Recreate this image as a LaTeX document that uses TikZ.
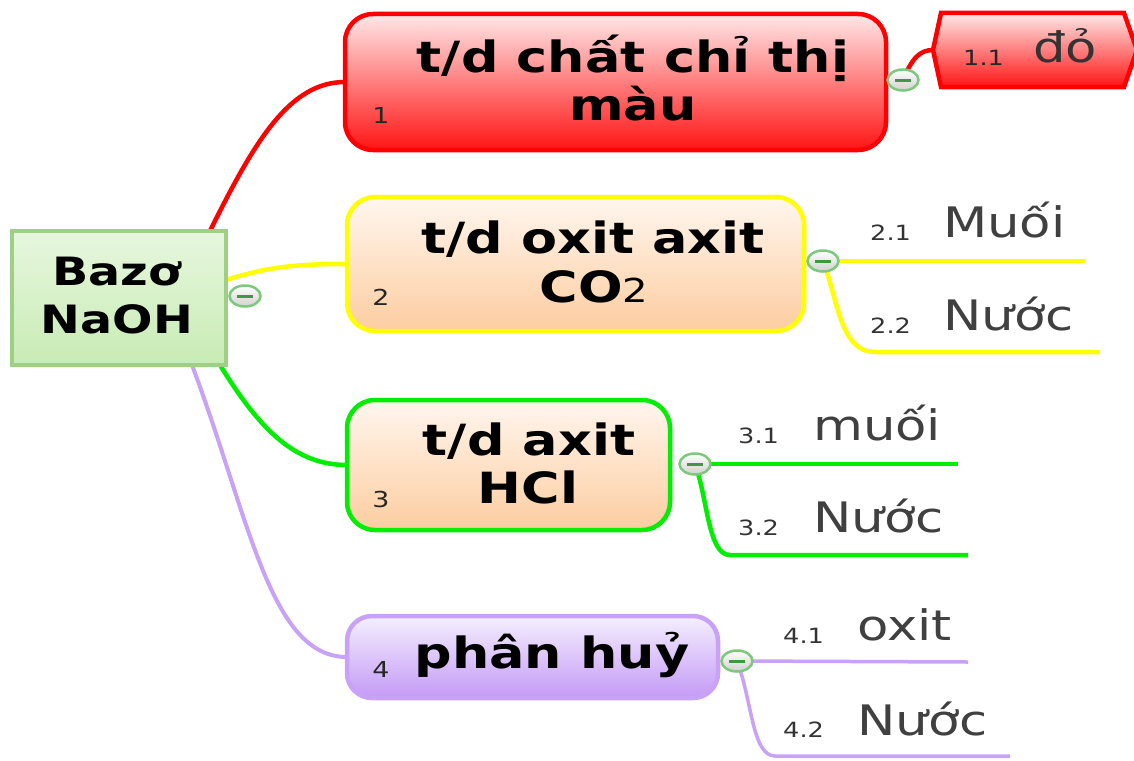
\documentclass[tikz,border=0pt]{standalone}
\usepackage{fontspec}
\setmainfont{DejaVu Sans}[FakeStretch=1.22]
\usetikzlibrary{shapes.geometric}
\pgfdeclarelayer{bg}
\pgfsetlayers{bg,main}
\definecolor{redb}{HTML}{FF0000}
\definecolor{redtop}{HTML}{FFE8E8}
\definecolor{redbot}{HTML}{FF1414}
\definecolor{yelb}{HTML}{FFFF00}
\definecolor{peachtop}{HTML}{FFF6EE}
\definecolor{peachbot}{HTML}{FDCDA0}
\definecolor{grnb}{HTML}{00EE00}
\definecolor{purb}{HTML}{C8A2F7}
\definecolor{purtop}{HTML}{F5EFFE}
\definecolor{purbot}{HTML}{C49AF6}
\definecolor{cenb}{HTML}{9DCF85}
\definecolor{centop}{HTML}{E7F7DE}
\definecolor{cenbot}{HTML}{C8EBB4}
\definecolor{txtg}{HTML}{404040}
\definecolor{colb}{HTML}{7CC87C}
\definecolor{colm}{HTML}{3E9A3E}
\tikzset{
  topic/.style={draw, line width=4.5pt, rounded corners=28pt, inner sep=0pt, outer sep=0pt},
  title/.style={font=\fontsize{43pt}{48pt}\selectfont\bfseries, anchor=base, inner sep=0pt},
  ctitle/.style={font=\fontsize{39pt}{44pt}\selectfont\bfseries, anchor=base, inner sep=0pt},
  num/.style={font=\fontsize{22pt}{24pt}\selectfont, anchor=base, inner sep=0pt, text=black!85},
  sub/.style={font=\fontsize{42pt}{46pt}\selectfont, text=txtg, anchor=base west, inner sep=0pt},
  subnum/.style={font=\fontsize{21pt}{24pt}\selectfont, text=black!80, anchor=base west, inner sep=0pt},
  coll/.style={ellipse, draw=colb, line width=2.5pt, minimum width=31pt, minimum height=21pt,
    inner sep=0pt, top color=white, bottom color=black!18,
    path picture={\draw[line width=3pt, colm] ([xshift=-8pt]path picture bounding box.center) -- ([xshift=8pt]path picture bounding box.center);}},
  link/.style={line width=4.5pt},
}
\begin{document}
\begin{tikzpicture}[x=1pt,y=-1pt]
\useasboundingbox (0,0) rectangle (1134,760);

% central topic
\node[draw=cenb, line width=4.5pt, top color=centop, bottom color=cenbot, minimum width=214pt, minimum height=134pt, inner sep=0pt, outer sep=0pt] (t0) at (119,298) {};
\node[ctitle] (t0a) at (117,285) {Bazơ};
\node[ctitle] (t0b) at (117,333) {NaOH};

% main topics
\node[topic, draw=redb, top color=redtop, bottom color=redbot, minimum width=541pt, minimum height=136pt] (t1) at (615.5,82) {};
\node[title] (t1a) at (633,72) {t/d chất chỉ thị};
\node[title] (t1b) at (633,120) {màu};
\node[num] (n1) at (381,123) {1};

\node[topic, draw=yelb, top color=peachtop, bottom color=peachbot, minimum width=457pt, minimum height=134pt] (t2) at (575.5,264) {};
\node[title] (t2a) at (593,253) {t/d oxit axit};
\node[title] (t2b) at (594,302) {CO{\mdseries\fontsize{33pt}{36pt}\selectfont 2}};
\node[num] (n2) at (381,305) {2};

\node[topic, draw=grnb, top color=peachtop, bottom color=peachbot, minimum width=323pt, minimum height=130pt] (t3) at (508.5,465) {};
\node[title] (t3a) at (529,455) {t/d axit};
\node[title] (t3b) at (528,503) {HCl};
\node[num] (n3) at (381,507) {3};

\node[topic, draw=purb, rounded corners=25pt, top color=purtop, bottom color=purbot, minimum width=371pt, minimum height=82pt] (t4) at (532.5,657) {};
\node[title] (t4a) at (552,668) {phân huỷ};
\node[num] (n4) at (381,677) {4};

% sub topic 1.1 (hexagon)
\path[draw=redb, line width=4.5pt, top color=redtop, bottom color=redbot]
  (941,13) -- (1124,13) -- (1137,50) -- (1124,87) -- (941,87) -- (933,50) -- cycle;
\coordinate (h1) at (933,50);
\node[subnum, text=black!85] (s11n) at (963,65) {1.1};
\node[sub, text=black!80] (s11) at (1033,63) {đỏ};

% collapse buttons
\node[coll] (c0) at (245,296) {};
\node[coll] (c1) at (903,80) {};
\node[coll] (c2) at (823,261) {};
\node[coll] (c3) at (695,464) {};
\node[coll] (c4) at (737,661) {};

% sub topic labels
\node[subnum] (s21n) at (870,240) {2.1};
\node[sub] (s21) at (943,237) {Muối};
\node[subnum] (s22n) at (870,333) {2.2};
\node[sub] (s22) at (943,330) {Nước};
\node[subnum] (s31n) at (738,443) {3.1};
\node[sub] (s31) at (813,440) {muối};
\node[subnum] (s32n) at (738,535) {3.2};
\node[sub] (s32) at (813,532) {Nước};
\node[subnum] (s41n) at (783,643) {4.1};
\node[sub] (s41) at (857,640) {oxit};
\node[subnum] (s42n) at (783,737) {4.2};
\node[sub] (s42) at (857,735) {Nước};

\coordinate (e21) at (1085,261);
\coordinate (e22) at (1100,352);
\coordinate (e31) at (958,464);
\coordinate (e32) at (968,555);
\coordinate (e41) at (968,662);
\coordinate (e42) at (1010,756);

\begin{pgfonlayer}{bg}
  \fill[white] (0,0) rectangle (1134,760);
  \draw[link, redb] ([xshift=91pt]t0.north) .. controls (255,140) and (290,82) .. (t1.west);
  \draw[link, yelb] ([yshift=18pt]t0.east) .. controls (270,266) and (300,264) .. (t2.west);
  \draw[link, grnb] ([xshift=101pt]t0.south) .. controls (260,430) and (295,465) .. (t3.west);
  \draw[line width=4pt, purb] ([xshift=73pt]t0.south) .. controls (250,520) and (270,657) .. (t4.west);

  \draw[link, redb] (c1.center) .. controls (912,58) and (920,50) .. (h1);
  \draw[link, yelb] (c2.center) -- (e21);
  \draw[link, yelb] (c2.center) .. controls (838,300) and (840,352) .. (875,352) -- (e22);
  \draw[link, grnb] (c3.center) -- (e31);
  \draw[link, grnb] (c3.center) .. controls (708,500) and (708,555) .. (730,555) -- (e32);
  \draw[line width=3.5pt, purb] (c4.center) -- (e41);
  \draw[line width=3.5pt, purb] (c4.center) .. controls (752,700) and (752,756) .. (775,756) -- (e42);
\end{pgfonlayer}
\end{tikzpicture}
\end{document}
